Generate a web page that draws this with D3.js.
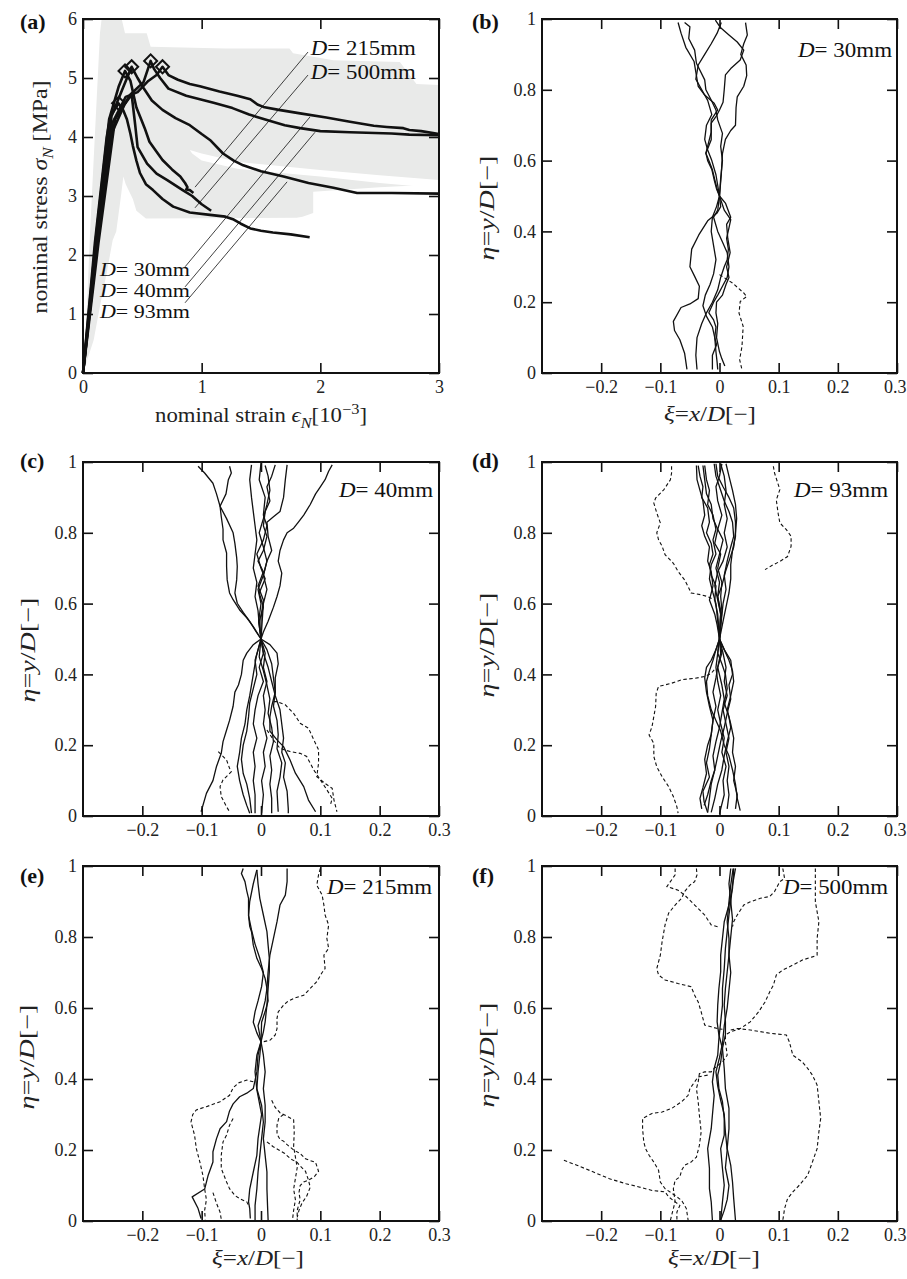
<!DOCTYPE html>
<html><head><meta charset="utf-8">
<script src="https://cdn.jsdelivr.net/npm/d3@7"></script>
<style>body{margin:0;background:#fff}</style>
</head><body><svg width="907" height="1279"></svg>
<script>
// ================= DATA =================
// Panel (a): nominal stress-strain curves (strain in 1e-3, stress in MPa)
const strainTicks = [0,1,2,3];
const stressTicks = [0,1,2,3,4,5,6];
const curveTop = [[0,0],[0.12,2.2],[0.25,4.25],[0.36,4.68],[0.46,4.76],[0.55,4.95],[0.62,5.05],[0.67,5.19],[0.72,5.05],[0.80,4.97],[0.90,4.90],[0.985,4.86],[1.15,4.77],[1.30,4.70],[1.41,4.64],[1.47,4.55],[1.52,4.51],[1.65,4.46],[1.83,4.40],[2.05,4.33],[2.25,4.26],[2.45,4.19],[2.56,4.17],[2.70,4.15],[2.75,4.12],[2.85,4.10],[3.0,4.05]];
const curveSecond = [[0,0],[0.13,2.2],[0.27,4.3],[0.40,4.72],[0.51,4.93],[0.57,5.29],[0.60,5.15],[0.65,5.0],[0.72,4.82],[0.87,4.70],[0.985,4.64],[1.10,4.58],[1.26,4.49],[1.40,4.38],[1.55,4.29],[1.70,4.20],[1.83,4.15],[2.0,4.10],[2.25,4.08],[2.6,4.06],[2.75,4.04],[3.0,4.03]];
const curveThird = [[0,0],[0.12,2.3],[0.24,4.35],[0.33,4.8],[0.41,5.19],[0.46,5.0],[0.51,4.83],[0.58,4.62],[0.67,4.46],[0.78,4.32],[0.90,4.20],[1.0,4.05],[1.07,3.95],[1.18,3.72],[1.27,3.60],[1.35,3.52],[1.50,3.42],[1.69,3.33],[1.90,3.22],[2.11,3.14],[2.31,3.05],[2.6,3.05],[3.0,3.04]];
const curveShortA = [[0,0],[0.11,2.3],[0.22,4.3],[0.30,4.85],[0.354,5.12],[0.40,4.95],[0.45,4.5],[0.49,4.3],[0.52,4.15],[0.56,3.92],[0.62,3.75],[0.67,3.61],[0.75,3.45],[0.82,3.33],[0.86,3.22],[0.88,3.15],[0.87,3.11],[0.90,3.10],[0.93,3.05]];
const curveShortB = [[0,0],[0.12,2.2],[0.25,4.1],[0.35,4.55],[0.41,4.72],[0.44,4.2],[0.46,3.83],[0.54,3.55],[0.62,3.38],[0.71,3.27],[0.84,3.10],[0.92,3.0],[1.0,2.86],[1.08,2.75]];
const curveLow = [[0,0],[0.10,2.2],[0.20,4.0],[0.23,4.34],[0.30,4.57],[0.34,4.45],[0.37,4.3],[0.40,4.05],[0.42,3.85],[0.45,3.6],[0.48,3.39],[0.53,3.2],[0.59,3.10],[0.67,2.95],[0.76,2.82],[0.90,2.72],[1.07,2.68],[1.20,2.65],[1.27,2.60],[1.33,2.53],[1.41,2.45],[1.50,2.41],[1.60,2.38],[1.75,2.35],[1.91,2.30]];
const peakMarkers = [[0.30,4.57],[0.354,5.12],[0.41,5.19],[0.57,5.29],[0.67,5.19]];
const greyEnvelope = [[0,0],[0.017,0.39],[0.036,1.24],[0.059,2.37],[0.087,3.5],[0.115,4.63],[0.143,5.76],[0.157,6.0],[0.326,6.0],[0.354,5.76],[0.537,5.76],[0.57,5.53],[1.2,5.5],[1.74,5.5],[1.77,5.42],[2.11,5.3],[2.67,5.27],[2.81,4.9],[3.0,4.88],[3.0,3.2],[2.5,3.15],[1.94,3.07],[1.94,2.71],[1.85,2.65],[1.8,2.63],[0.53,2.62],[0.45,2.75],[0.42,2.95],[0.36,3.2],[0.34,3.33],[0.32,3.0],[0.28,2.4],[0.25,2.25],[0.2,1.7],[0.14,1.1],[0.09,0.56]];
const whiteStreak = [[0.90,3.78],[1.0,3.72],[1.3,3.58],[2.0,3.44],[2.5,3.35],[3.0,3.27],[3.0,3.13],[2.5,3.22],[2.0,3.33],[1.3,3.46],[1.0,3.60],[0.92,3.72]];
const specimenSizes = [215,500,30,40,93];

// Panels (b)-(f): crack paths (xi = x/D, eta = y/D)
const xiTicks = [-0.2,-0.1,0,0.1,0.2,0.3];
const etaTicks = [0,0.2,0.4,0.6,0.8,1];
const panelSizes = [30,40,93,215,500];

const crackB_solid = [
 [[-0.070,0.99],[-0.065,0.96],[-0.057,0.92],[-0.043,0.88],[-0.039,0.84],[-0.036,0.81],[-0.025,0.785],[-0.009,0.762],[-0.003,0.743],[-0.014,0.715],[-0.014,0.68],[-0.023,0.621],[-0.018,0.60],[-0.012,0.574],[-0.008,0.546],[-0.004,0.52],[0,0.5],[0.002,0.47],[-0.004,0.452],[-0.020,0.43],[-0.035,0.39],[-0.047,0.35],[-0.050,0.30],[-0.042,0.273],[-0.034,0.245],[-0.036,0.21],[-0.050,0.195],[-0.065,0.185],[-0.078,0.146],[-0.076,0.12],[-0.067,0.094],[-0.059,0.056],[-0.055,0.01]],
 [[-0.059,0.99],[-0.050,0.978],[-0.052,0.945],[-0.042,0.912],[-0.039,0.875],[-0.025,0.828],[-0.023,0.80],[-0.014,0.771],[-0.006,0.743],[-0.003,0.715],[0.005,0.677],[0.002,0.64],[0.005,0.60],[0.002,0.55],[0,0.5],[0.008,0.46],[0.019,0.433],[0.016,0.41],[0.012,0.38],[0.015,0.35],[0.013,0.32],[0.008,0.30],[0.002,0.27],[-0.003,0.235],[-0.012,0.20],[-0.022,0.17],[-0.030,0.14],[-0.038,0.10],[-0.040,0.05],[-0.038,0.01]],
 [[-0.007,0.997],[0.002,0.975],[0.016,0.955],[0.030,0.935],[0.041,0.912],[0.035,0.884],[0.019,0.86],[0.010,0.842],[0.008,0.80],[0.006,0.765],[0.000,0.743],[-0.006,0.724],[-0.014,0.706],[-0.014,0.659],[-0.023,0.621],[-0.020,0.60],[-0.013,0.575],[-0.009,0.546],[-0.005,0.52],[0,0.5],[-0.003,0.46],[-0.010,0.44],[-0.003,0.40],[0.005,0.37],[0.013,0.34],[0.016,0.30],[0.013,0.27],[0.005,0.245],[-0.003,0.22],[-0.010,0.20],[-0.018,0.17],[-0.010,0.15],[-0.006,0.13],[-0.008,0.10],[-0.005,0.08],[-0.012,0.05],[-0.012,0.01]],
 [[0.044,0.99],[0.047,0.955],[0.041,0.93],[0.036,0.90],[0.045,0.87],[0.046,0.84],[0.041,0.81],[0.030,0.78],[0.028,0.75],[0.027,0.70],[0.019,0.685],[0.010,0.66],[0.005,0.62],[0.003,0.56],[0,0.5],[0.010,0.48],[0.019,0.44],[0.012,0.42],[0.014,0.38],[0.018,0.34],[0.012,0.30],[0.016,0.27],[0.011,0.25],[0.005,0.22],[-0.005,0.20],[-0.006,0.17],[-0.003,0.14],[-0.005,0.10],[0.000,0.06],[0.004,0.04],[0.009,0.02]],
 [[0.003,0.99],[-0.004,0.96],[-0.014,0.93],[-0.025,0.90],[-0.036,0.87],[-0.040,0.83],[-0.030,0.80],[-0.020,0.77],[-0.013,0.73],[-0.022,0.70],[-0.025,0.66],[-0.020,0.63],[-0.013,0.60],[-0.006,0.56],[0,0.5],[-0.005,0.47],[-0.012,0.44],[-0.014,0.40],[-0.010,0.36],[-0.006,0.32],[-0.010,0.28],[-0.016,0.25],[-0.024,0.22],[-0.028,0.19],[-0.022,0.16],[-0.012,0.13],[-0.008,0.10],[-0.006,0.06],[-0.004,0.03],[-0.003,0.01]]
];
const crackB_dashed = [
 [[0,0.278],[0.022,0.254],[0.041,0.226],[0.046,0.216],[0.035,0.202],[0.033,0.169],[0.040,0.132],[0.038,0.075],[0.034,0.038],[0.038,0.009]]
];
const crackC_solid = [
 [[-0.106,0.988],[-0.095,0.969],[-0.081,0.94],[-0.075,0.91],[-0.069,0.875],[-0.058,0.84],[-0.047,0.80],[-0.044,0.77],[-0.041,0.73],[-0.040,0.705],[-0.041,0.667],[-0.044,0.63],[-0.040,0.601],[-0.030,0.575],[-0.019,0.55],[-0.008,0.52],[0,0.5]],
 [[-0.053,0.988],[-0.050,0.969],[-0.055,0.95],[-0.059,0.91],[-0.069,0.875],[-0.067,0.846],[-0.064,0.81],[-0.064,0.78],[-0.058,0.743],[-0.058,0.705],[-0.057,0.667],[-0.053,0.63],[-0.047,0.611],[-0.036,0.582],[-0.024,0.56],[-0.013,0.535],[0,0.5]],
 [[-0.016,0.992],[-0.019,0.95],[-0.016,0.90],[-0.013,0.86],[-0.010,0.82],[-0.007,0.78],[-0.010,0.74],[-0.013,0.70],[-0.007,0.66],[-0.010,0.62],[-0.005,0.58],[-0.003,0.54],[0,0.5]],
 [[0.000,0.997],[-0.003,0.95],[0.007,0.90],[0.004,0.85],[0.010,0.82],[0.004,0.78],[-0.007,0.74],[0.000,0.70],[0.007,0.67],[-0.003,0.63],[0.004,0.59],[-0.003,0.55],[0,0.5]],
 [[0.024,0.992],[0.018,0.96],[0.010,0.93],[0.015,0.89],[0.007,0.86],[0.004,0.82],[0.010,0.79],[0.004,0.75],[-0.005,0.72],[0.004,0.69],[-0.005,0.65],[0.004,0.61],[0.000,0.56],[0,0.5]],
 [[0.044,0.992],[0.041,0.95],[0.038,0.90],[0.032,0.86],[0.021,0.845],[0.010,0.83],[0.012,0.79],[0.018,0.75],[0.010,0.72],[0.004,0.68],[0.010,0.64],[0.004,0.60],[0.002,0.55],[0,0.5]],
 [[0.120,0.992],[0.114,0.974],[0.108,0.95],[0.100,0.93],[0.092,0.91],[0.083,0.88],[0.072,0.85],[0.063,0.83],[0.055,0.813],[0.044,0.80],[0.038,0.78],[0.032,0.75],[0.029,0.72],[0.035,0.686],[0.032,0.65],[0.027,0.62],[0.021,0.59],[0.012,0.55],[0.004,0.52],[0,0.5]],
 [[0.007,0.99],[0.012,0.96],[0.015,0.92],[0.010,0.88],[0.004,0.84],[-0.003,0.80],[0.004,0.76],[0.010,0.72],[0.004,0.68],[-0.005,0.64],[0.000,0.60],[-0.004,0.55],[0,0.5]],
 [[0,0.5],[-0.013,0.484],[-0.024,0.46],[-0.030,0.44],[-0.033,0.40],[-0.038,0.37],[-0.044,0.35],[-0.047,0.31],[-0.053,0.27],[-0.058,0.243],[-0.064,0.21],[-0.067,0.177],[-0.075,0.14],[-0.081,0.10],[-0.092,0.064],[-0.101,0.012]],
 [[0,0.5],[0.015,0.484],[0.027,0.46],[0.029,0.43],[0.024,0.39],[0.024,0.35],[0.018,0.31],[0.015,0.28],[0.015,0.24],[0.027,0.215],[0.038,0.196],[0.049,0.158],[0.058,0.121],[0.072,0.083],[0.080,0.045],[0.092,0.012]],
 [[0,0.5],[-0.005,0.47],[-0.010,0.44],[-0.007,0.40],[-0.013,0.36],[-0.019,0.32],[-0.021,0.28],[-0.024,0.24],[-0.030,0.20],[-0.033,0.16],[-0.030,0.12],[-0.024,0.09],[-0.019,0.05],[-0.016,0.008]],
 [[0,0.5],[0.004,0.46],[-0.003,0.42],[0.004,0.38],[-0.005,0.34],[-0.010,0.30],[-0.013,0.26],[-0.007,0.22],[-0.013,0.18],[-0.010,0.14],[-0.013,0.10],[-0.010,0.06],[-0.010,0.008]],
 [[0,0.5],[0.007,0.46],[0.004,0.42],[0.010,0.38],[0.004,0.34],[0.007,0.30],[0.004,0.26],[0.010,0.22],[0.004,0.18],[0.007,0.14],[0.001,0.10],[0.004,0.06],[0.001,0.008]],
 [[0,0.5],[-0.003,0.45],[0.004,0.41],[0.010,0.37],[0.015,0.33],[0.012,0.29],[0.018,0.25],[0.021,0.21],[0.015,0.17],[0.018,0.13],[0.015,0.09],[0.018,0.05],[0.018,0.008]],
 [[0,0.5],[0.010,0.47],[0.018,0.43],[0.021,0.39],[0.024,0.35],[0.021,0.31],[0.027,0.27],[0.029,0.23],[0.027,0.19],[0.035,0.15],[0.032,0.11],[0.027,0.07],[0.029,0.012]],
 [[0,0.5],[0.004,0.46],[0.012,0.42],[0.018,0.38],[0.024,0.34],[0.032,0.30],[0.035,0.26],[0.038,0.22],[0.035,0.18],[0.041,0.15],[0.038,0.11],[0.044,0.07],[0.046,0.02],[0.046,0.008]],
 [[0,0.5],[-0.008,0.45],[-0.013,0.40],[-0.019,0.34],[-0.024,0.30],[-0.027,0.26],[-0.033,0.22],[-0.036,0.18],[-0.040,0.14],[-0.036,0.10],[-0.030,0.06],[-0.024,0.03],[-0.019,0.008]]
];
const crackC_dashed = [
 [[-0.072,0.182],[-0.058,0.158],[-0.053,0.135],[-0.050,0.125],[-0.064,0.102],[-0.069,0.083],[-0.067,0.055],[-0.058,0.026],[-0.053,0.012]],
 [[0.021,0.323],[0.027,0.323],[0.041,0.314],[0.055,0.290],[0.066,0.262],[0.080,0.248],[0.089,0.215],[0.097,0.187],[0.097,0.149],[0.094,0.111],[0.108,0.092],[0.120,0.078],[0.123,0.045],[0.128,0.012]],
 [[0.010,0.243],[0.021,0.215],[0.032,0.191],[0.049,0.182],[0.066,0.177],[0.077,0.168],[0.089,0.130],[0.100,0.102],[0.111,0.074],[0.120,0.050],[0.117,0.031]]
];
const crackD_solid = [
 [[-0.039,0.99],[-0.038,0.95],[-0.033,0.92],[-0.028,0.89],[-0.025,0.85],[-0.030,0.82],[-0.025,0.79],[-0.017,0.76],[-0.020,0.72],[-0.014,0.69],[-0.011,0.65],[-0.017,0.61],[-0.008,0.57],[-0.004,0.54],[0,0.5],[0.004,0.46],[-0.003,0.42],[-0.006,0.39],[-0.011,0.35],[-0.006,0.31],[-0.011,0.27],[-0.014,0.23],[-0.017,0.19],[-0.022,0.15],[-0.017,0.11],[-0.028,0.07],[-0.026,0.04],[-0.020,0.01]],
 [[-0.036,0.99],[-0.033,0.96],[-0.028,0.93],[-0.030,0.90],[-0.020,0.87],[-0.017,0.83],[-0.022,0.80],[-0.014,0.77],[-0.011,0.74],[-0.017,0.71],[-0.014,0.68],[-0.006,0.65],[-0.008,0.61],[-0.003,0.57],[0,0.5],[-0.003,0.46],[0.004,0.43],[0.010,0.40],[0.013,0.36],[0.008,0.32],[0.016,0.28],[0.019,0.25],[0.013,0.21],[0.008,0.17],[0.004,0.13],[-0.003,0.09],[-0.008,0.05],[-0.014,0.01]],
 [[-0.028,0.99],[-0.025,0.95],[-0.022,0.91],[-0.014,0.88],[-0.011,0.84],[-0.003,0.81],[-0.008,0.77],[0.002,0.74],[-0.003,0.70],[0.004,0.66],[0.002,0.62],[0.004,0.58],[0,0.5],[0.008,0.47],[0.019,0.44],[0.022,0.40],[0.016,0.37],[0.019,0.33],[0.013,0.29],[0.008,0.25],[0.002,0.21],[-0.003,0.17],[-0.008,0.13],[-0.014,0.10],[-0.020,0.06],[-0.026,0.03]],
 [[-0.009,0.995],[-0.006,0.96],[0.000,0.93],[0.008,0.89],[0.016,0.86],[0.022,0.83],[0.024,0.79],[0.019,0.76],[0.013,0.72],[0.008,0.68],[0.011,0.64],[0.006,0.60],[0.003,0.55],[0,0.5],[-0.006,0.47],[-0.011,0.44],[-0.017,0.41],[-0.022,0.38],[-0.020,0.34],[-0.014,0.30],[-0.006,0.27],[0.002,0.24],[0.008,0.20],[0.016,0.17],[0.022,0.13],[0.027,0.09],[0.030,0.05],[0.035,0.015]],
 [[-0.006,0.995],[-0.003,0.96],[0.006,0.93],[0.016,0.90],[0.024,0.87],[0.027,0.83],[0.027,0.79],[0.022,0.75],[0.019,0.71],[0.019,0.67],[0.016,0.63],[0.011,0.59],[0.006,0.55],[0,0.5],[0.008,0.47],[0.016,0.44],[0.022,0.41],[0.024,0.38],[0.019,0.34],[0.013,0.30],[0.019,0.26],[0.024,0.22],[0.022,0.18],[0.027,0.14],[0.024,0.10],[0.030,0.06],[0.027,0.02]],
 [[0.002,0.995],[0.008,0.96],[0.011,0.92],[0.008,0.88],[0.013,0.84],[0.008,0.80],[0.013,0.76],[0.006,0.72],[-0.003,0.69],[-0.008,0.65],[-0.003,0.61],[0.002,0.57],[0,0.5],[-0.003,0.46],[-0.006,0.42],[-0.003,0.38],[0.002,0.34],[-0.003,0.30],[0.002,0.26],[0.008,0.22],[0.004,0.18],[0.011,0.14],[0.006,0.10],[0.008,0.06],[0.002,0.02],[0.000,0.005]],
 [[0.011,0.995],[0.016,0.96],[0.022,0.92],[0.027,0.88],[0.029,0.84],[0.027,0.80],[0.024,0.76],[0.016,0.72],[0.010,0.69],[0.004,0.65],[-0.003,0.62],[0.002,0.58],[0,0.5],[0.006,0.46],[0.011,0.42],[0.008,0.38],[0.013,0.34],[0.006,0.30],[0.011,0.26],[0.016,0.22],[0.011,0.18],[0.016,0.14],[0.013,0.10],[0.016,0.06],[0.013,0.02]],
 [[-0.025,0.99],[-0.022,0.95],[-0.017,0.92],[-0.020,0.88],[-0.011,0.85],[-0.006,0.81],[-0.011,0.78],[-0.006,0.74],[-0.014,0.71],[-0.017,0.67],[-0.011,0.63],[-0.006,0.60],[-0.003,0.55],[0,0.5],[-0.006,0.47],[-0.014,0.44],[-0.022,0.42],[-0.025,0.39],[-0.022,0.35],[-0.017,0.31],[-0.011,0.27],[-0.014,0.23],[-0.020,0.20],[-0.025,0.16],[-0.022,0.12],[-0.028,0.08],[-0.033,0.05],[-0.030,0.02]],
 [[0.004,0.995],[0.000,0.96],[-0.006,0.93],[-0.003,0.89],[0.004,0.85],[-0.003,0.81],[0.006,0.78],[0.000,0.74],[-0.006,0.70],[0.000,0.66],[-0.003,0.62],[0.002,0.57],[0,0.5],[0.002,0.46],[-0.003,0.42],[0.004,0.37],[0.008,0.33],[0.004,0.29],[0.000,0.25],[-0.006,0.21],[-0.011,0.17],[-0.008,0.13],[-0.014,0.09],[-0.017,0.05],[-0.020,0.01]]
];
const crackD_dashed = [
 [[-0.081,0.988],[-0.081,0.969],[-0.083,0.95],[-0.094,0.922],[-0.108,0.898],[-0.111,0.884],[-0.106,0.856],[-0.100,0.828],[-0.106,0.80],[-0.103,0.78],[-0.097,0.762],[-0.092,0.738],[-0.078,0.714],[-0.070,0.691],[-0.059,0.667],[-0.053,0.648],[-0.048,0.63],[-0.031,0.625],[-0.020,0.62],[-0.009,0.611]],
 [[0.091,0.988],[0.093,0.969],[0.102,0.922],[0.096,0.893],[0.099,0.856],[0.102,0.828],[0.113,0.809],[0.121,0.79],[0.121,0.762],[0.115,0.733],[0.102,0.719],[0.091,0.71],[0.077,0.696]],
 [[-0.009,0.413],[-0.014,0.403],[-0.025,0.394],[-0.042,0.389],[-0.064,0.385],[-0.081,0.375],[-0.103,0.366],[-0.107,0.347],[-0.108,0.309],[-0.111,0.281],[-0.114,0.253],[-0.119,0.229],[-0.111,0.205],[-0.111,0.168],[-0.106,0.139],[-0.097,0.111],[-0.086,0.083],[-0.078,0.055],[-0.072,0.026],[-0.070,0.008]]
];
const crackE_solid = [
 [[-0.030,0.993],[-0.033,0.979],[-0.027,0.956],[-0.024,0.93],[-0.021,0.909],[-0.021,0.862],[-0.019,0.83],[-0.016,0.815],[-0.013,0.777],[-0.007,0.74],[0.001,0.711],[0.007,0.683],[0.010,0.655],[0.012,0.62],[0.007,0.59],[0.001,0.56],[0,0.505]],
 [[-0.007,0.989],[-0.005,0.95],[-0.002,0.909],[0.004,0.862],[0.010,0.815],[0.012,0.777],[0.014,0.74],[0.014,0.702],[0.012,0.655],[0.010,0.608],[0.007,0.561],[0.004,0.533],[0,0.505]],
 [[0.044,0.993],[0.044,0.956],[0.041,0.918],[0.032,0.89],[0.027,0.843],[0.021,0.796],[0.015,0.749],[0.012,0.702],[0.010,0.655],[0.007,0.62],[0.001,0.58],[-0.005,0.55],[0,0.505]],
 [[-0.007,0.989],[-0.013,0.95],[-0.019,0.90],[-0.021,0.86],[-0.016,0.82],[-0.010,0.78],[-0.002,0.74],[0.004,0.70],[0.001,0.66],[-0.005,0.62],[-0.010,0.59],[-0.013,0.56],[-0.007,0.53],[0,0.505]],
 [[0,0.505],[-0.005,0.467],[-0.007,0.42],[-0.013,0.373],[-0.024,0.36],[-0.036,0.35],[-0.047,0.33],[-0.053,0.31],[-0.058,0.28],[-0.069,0.26],[-0.075,0.232],[-0.081,0.195],[-0.081,0.166],[-0.089,0.129],[-0.095,0.09],[-0.116,0.068],[-0.106,0.035],[-0.101,0.007]],
 [[0,0.505],[-0.002,0.467],[-0.005,0.42],[-0.007,0.373],[0.001,0.326],[0.004,0.279],[0.001,0.232],[-0.002,0.185],[-0.005,0.138],[-0.007,0.09],[-0.010,0.044],[-0.010,0.002]],
 [[0,0.505],[0.004,0.467],[0.007,0.42],[0.004,0.373],[0.007,0.326],[0.007,0.279],[0.004,0.232],[0.007,0.185],[0.010,0.138],[0.010,0.09],[0.011,0.044],[0.012,0.002]],
 [[0,0.505],[-0.007,0.467],[-0.010,0.42],[-0.007,0.37],[0.001,0.30],[-0.005,0.232],[-0.007,0.185],[-0.013,0.138],[-0.019,0.09],[-0.021,0.054],[-0.019,0.035],[-0.018,0.007]]
];
const crackE_dashed = [
 [[0.100,0.993],[0.097,0.975],[0.094,0.946],[0.103,0.918],[0.106,0.89],[0.108,0.862],[0.114,0.834],[0.111,0.796],[0.114,0.768],[0.106,0.749],[0.108,0.711],[0.103,0.70],[0.094,0.674],[0.083,0.655],[0.072,0.636],[0.055,0.627],[0.044,0.617],[0.038,0.608],[0.029,0.589],[0.027,0.571],[0.027,0.542],[0.024,0.524],[0.015,0.509],[0.004,0.505]],
 [[-0.013,0.392],[-0.024,0.397],[-0.038,0.389],[-0.047,0.375],[-0.053,0.354],[-0.069,0.336],[-0.092,0.322],[-0.109,0.313],[-0.115,0.30],[-0.118,0.279],[-0.112,0.242],[-0.109,0.204],[-0.103,0.166],[-0.098,0.129],[-0.095,0.091],[-0.092,0.06],[-0.095,0.03],[-0.094,0.005]],
 [[-0.047,0.289],[-0.053,0.27],[-0.058,0.242],[-0.064,0.223],[-0.067,0.185],[-0.067,0.148],[-0.058,0.11],[-0.053,0.091],[-0.044,0.072],[-0.036,0.063],[-0.024,0.054],[-0.021,0.044]],
 [[-0.081,0.08],[-0.075,0.05],[-0.069,0.025],[-0.067,0.005]],
 [[0.018,0.34],[0.024,0.32],[0.032,0.305],[0.044,0.295],[0.055,0.285],[0.056,0.25],[0.055,0.21],[0.058,0.18],[0.061,0.15],[0.058,0.12],[0.055,0.09],[0.058,0.06],[0.055,0.03],[0.053,0.002]],
 [[0.038,0.30],[0.030,0.29],[0.027,0.27],[0.027,0.245],[0.032,0.23],[0.038,0.225],[0.044,0.215],[0.055,0.20],[0.066,0.19],[0.075,0.175],[0.092,0.165],[0.097,0.14],[0.090,0.125],[0.080,0.115],[0.072,0.11],[0.066,0.10],[0.064,0.08],[0.066,0.06],[0.061,0.03],[0.061,0.002]],
 [[0.010,0.223],[0.020,0.21],[0.030,0.20],[0.040,0.19],[0.050,0.175],[0.061,0.165],[0.066,0.155],[0.075,0.14],[0.080,0.115],[0.083,0.095],[0.077,0.07],[0.069,0.05],[0.064,0.03],[0.061,0.01]]
];
const crackF_solid = [
 [[0.027,0.993],[0.022,0.946],[0.019,0.899],[0.016,0.862],[0.013,0.815],[0.010,0.768],[0.008,0.711],[0.005,0.655],[0.005,0.608],[0.002,0.561],[-0.001,0.514],[-0.003,0.467],[-0.009,0.43],[-0.012,0.392],[-0.009,0.354],[-0.012,0.298],[-0.014,0.26],[-0.020,0.204],[-0.017,0.148],[-0.017,0.091],[-0.014,0.054],[-0.012,0.002]],
 [[0.024,0.993],[0.022,0.937],[0.016,0.89],[0.008,0.843],[0.005,0.796],[0.002,0.749],[0.002,0.702],[-0.001,0.655],[-0.003,0.608],[-0.004,0.561],[-0.001,0.524],[0.005,0.486],[0.002,0.448],[-0.003,0.411],[-0.001,0.373],[0.005,0.336],[0.008,0.289],[0.008,0.242],[0.002,0.204],[0.005,0.148],[0.008,0.101],[0.005,0.054],[0.002,0.002]],
 [[0.023,0.993],[0.019,0.946],[0.016,0.899],[0.013,0.843],[0.016,0.796],[0.016,0.749],[0.013,0.702],[0.010,0.655],[0.008,0.608],[0.010,0.561],[0.010,0.524],[0.005,0.486],[0.008,0.43],[0.010,0.373],[0.016,0.317],[0.016,0.26],[0.013,0.204],[0.019,0.157],[0.022,0.11],[0.024,0.063],[0.027,0.002]],
 [[0.019,0.993],[0.016,0.95],[0.019,0.90],[0.022,0.85],[0.019,0.80],[0.016,0.75],[0.019,0.70],[0.016,0.65],[0.013,0.60],[0.008,0.55],[0.005,0.50],[0.000,0.46],[-0.006,0.42],[-0.003,0.38],[0.002,0.34],[0.008,0.30],[0.010,0.25],[0.013,0.20],[0.010,0.15],[0.016,0.10],[0.013,0.06],[0.008,0.03],[0.002,0.002]]
];
const crackF_dashed = [
 [[-0.075,0.993],[-0.075,0.975],[-0.089,0.942],[-0.070,0.932],[-0.059,0.918],[-0.042,0.89],[-0.025,0.862],[-0.014,0.834],[-0.003,0.829]],
 [[-0.039,0.993],[-0.038,0.975],[-0.042,0.956],[-0.050,0.946],[-0.059,0.928],[-0.064,0.909],[-0.075,0.89],[-0.086,0.867],[-0.092,0.834],[-0.097,0.787],[-0.100,0.749],[-0.106,0.711],[-0.103,0.693],[-0.092,0.679],[-0.070,0.669],[-0.048,0.66],[-0.042,0.636],[-0.036,0.617],[-0.031,0.589],[-0.025,0.552],[-0.014,0.547],[-0.003,0.542],[0.005,0.54]],
 [[0.107,0.993],[0.110,0.965],[0.102,0.956],[0.093,0.928],[0.085,0.914],[0.069,0.909],[0.052,0.899],[0.041,0.89],[0.030,0.862],[0.024,0.843],[0.022,0.829]],
 [[0.162,0.993],[0.162,0.937],[0.162,0.899],[0.168,0.843],[0.165,0.796],[0.165,0.749],[0.157,0.744],[0.140,0.735],[0.124,0.721],[0.107,0.707],[0.096,0.693],[0.091,0.664],[0.085,0.646],[0.077,0.617],[0.066,0.589],[0.052,0.561],[0.035,0.542],[0.019,0.533],[0.010,0.524],[0.010,0.505],[0.013,0.467],[0.005,0.448],[-0.009,0.43],[-0.014,0.42],[-0.025,0.42],[-0.034,0.415],[-0.036,0.392],[-0.039,0.373],[-0.036,0.336],[-0.034,0.298],[-0.031,0.251],[-0.034,0.213],[-0.039,0.18],[-0.048,0.166],[-0.059,0.157],[-0.064,0.143],[-0.067,0.124],[-0.075,0.115],[-0.078,0.091],[-0.075,0.054],[-0.078,0.035],[-0.083,0.002]],
 [[0.019,0.538],[0.030,0.542],[0.052,0.538],[0.085,0.529],[0.113,0.524],[0.118,0.505],[0.124,0.467],[0.140,0.448],[0.149,0.43],[0.157,0.411],[0.165,0.383],[0.168,0.336],[0.171,0.289],[0.168,0.251],[0.165,0.204],[0.157,0.166],[0.149,0.129],[0.135,0.101],[0.124,0.082],[0.115,0.063],[0.110,0.035],[0.107,0.002]],
 [[-0.020,0.411],[-0.036,0.406],[-0.050,0.373],[-0.053,0.354],[-0.064,0.336],[-0.081,0.317],[-0.097,0.307],[-0.114,0.303],[-0.130,0.289],[-0.130,0.26],[-0.128,0.223],[-0.125,0.204],[-0.119,0.185],[-0.111,0.166],[-0.103,0.143],[-0.100,0.11],[-0.092,0.091],[-0.075,0.072],[-0.064,0.058],[-0.056,0.035],[-0.053,0.002]],
 [[-0.263,0.171],[-0.241,0.157],[-0.213,0.138],[-0.186,0.119],[-0.158,0.105],[-0.136,0.096],[-0.114,0.086],[-0.092,0.082],[-0.086,0.068],[-0.075,0.054],[-0.067,0.044],[-0.072,0.025],[-0.072,0.002]]
];

// ================= DRAWING =================
const FONT = '"Liberation Serif","Times New Roman",serif';
const INK = "#111";
const svg = d3.select("svg");

const boxes = {
  a:{x0:83,x1:439,y0:19,y1:373}, b:{x0:542,x1:897,y0:19,y1:373},
  c:{x0:83,x1:439,y0:462,y1:816}, d:{x0:542,x1:897,y0:462,y1:816},
  e:{x0:83,x1:439,y0:866,y1:1221}, f:{x0:542,x1:897,y0:866,y1:1221}
};

function rich(sel, parts, size){
  let shift = 0;
  parts.forEach(p=>{
    const ts = sel.append("tspan").text(p.t);
    if(p.i) ts.attr("font-style","italic");
    const target = p.sub ? size*0.3 : (p.sup ? -size*0.42 : 0);
    const dy = target - shift;
    if(dy !== 0) ts.attr("dy", dy);
    shift = target;
    if(p.sub || p.sup) ts.attr("font-size", size*0.72);
  });
}

function axes(g, x, y, xt, yt, fx, fy, w, h, pullLast){
  const list = [
    g.append("g").attr("transform",`translate(0,${h})`).call(d3.axisBottom(x).tickValues(xt).tickSize(-10).tickPadding(7).tickFormat(fx)),
    g.append("g").call(d3.axisTop(x).tickValues(xt).tickSize(-10).tickFormat(()=>"")),
    g.append("g").call(d3.axisLeft(y).tickValues(yt).tickSize(-10).tickPadding(6).tickFormat(fy)),
    g.append("g").attr("transform",`translate(${w},0)`).call(d3.axisRight(y).tickValues(yt).tickSize(-10).tickFormat(()=>""))
  ];
  list.forEach(a=>{
    a.select(".domain").remove();
    a.attr("font-family",FONT).attr("font-size",18);
    a.selectAll("line").attr("stroke",INK).attr("stroke-width",1.6);
    a.selectAll("text").attr("fill","#222");
  });
  if(pullLast){
    // keep the last x tick label inside the 907px page
    list[0].selectAll("text").filter((d,i,n)=>i===n.length-1).attr("text-anchor","end").attr("x",9);
  }
  g.append("rect").attr("width",w).attr("height",h).attr("fill","none").attr("stroke",INK).attr("stroke-width",2);
}

function panelLetter(letter, x, y){
  svg.append("text").attr("x",x).attr("y",y).attr("font-family",FONT).attr("font-weight","bold")
    .attr("font-size",22).attr("fill","#111").text(`(${letter})`);
}

function sizeLabel(parent, x, y, size, anchor, fs, len){
  const t = parent.append("text").attr("x",x).attr("y",y).attr("font-family",FONT)
    .attr("font-size",fs).attr("fill","#111").attr("text-anchor",anchor)
    .attr("textLength",len).attr("lengthAdjust","spacingAndGlyphs");
  rich(t,[{t:"D",i:true},{t:"= "+size+"mm"}],fs);
  return t;
}

// ---------- Panel (a) ----------
{
  const bx = boxes.a, w = bx.x1-bx.x0, h = bx.y1-bx.y0;
  const g = svg.append("g").attr("transform",`translate(${bx.x0},${bx.y0})`);
  const x = d3.scaleLinear().domain([0,3]).range([0,w]);
  const y = d3.scaleLinear().domain([0,6]).range([h,0]);
  const line = d3.line().x(d=>x(d[0])).y(d=>y(d[1]));
  g.append("path").attr("d", line(greyEnvelope)+"Z").attr("fill","#e9eae9");
  g.append("path").attr("d", line(whiteStreak)+"Z").attr("fill","#fff");
  axes(g, x, y, strainTicks, stressTicks, d=>String(d), d=>String(d), w, h, false);
  [curveLow, curveShortB, curveShortA, curveThird, curveSecond, curveTop].forEach(c=>{
    g.append("path").attr("d", line(c)).attr("fill","none").attr("stroke",INK)
      .attr("stroke-width",2.6).attr("stroke-linejoin","round");
  });
  g.selectAll(".pk").data(peakMarkers).enter().append("path")
    .attr("transform", d=>`translate(${x(d[0])},${y(d[1])}) rotate(45)`)
    .attr("d", d3.symbol().type(d3.symbolSquare).size(85))
    .attr("fill","none").attr("stroke",INK).attr("stroke-width",2);
  // leader lines (data coordinates)
  const leaders = [
    [[1.896,5.44],[0.944,3.15]], [[1.896,5.05],[0.944,2.80]],
    [[0.86,1.80],[1.913,4.34]], [[0.86,1.46],[1.955,4.08]], [[0.86,1.19],[1.72,3.24]]
  ];
  leaders.forEach(l=> g.append("path").attr("d", line(l)).attr("stroke",INK).attr("stroke-width",0.8).attr("fill","none"));
  const labelPos = [[1.92,5.39],[1.92,4.98],[0.143,1.644],[0.143,1.288],[0.143,0.932]];
  const labelFs = [20,20,18,18,18];
  const labelLen = [105,105,90,90,90];
  specimenSizes.forEach((s,i)=> sizeLabel(g, x(labelPos[i][0]), y(labelPos[i][1]), s, "start", labelFs[i], labelLen[i]));
  // axis titles
  const ty = svg.append("text").attr("transform",`translate(40,197) rotate(-90)`).attr("text-anchor","middle")
    .attr("dy","0.35em").attr("font-family",FONT).attr("font-size",20).attr("fill","#222")
    .attr("textLength",233).attr("lengthAdjust","spacingAndGlyphs");
  rich(ty,[{t:"nominal stress "},{t:"σ",i:true},{t:"N",i:true,sub:true},{t:" [MPa]"}],20);
  const tx = svg.append("text").attr("x",261).attr("y",422).attr("text-anchor","middle")
    .attr("font-family",FONT).attr("font-size",20).attr("fill","#222")
    .attr("textLength",212).attr("lengthAdjust","spacingAndGlyphs");
  rich(tx,[{t:"nominal strain "},{t:"ϵ",i:true},{t:"N",i:true,sub:true},{t:"[10"},{t:"−3",sup:true},{t:"]"}],20);
  panelLetter("a",20,29);
}

// ---------- Panels (b)-(f) ----------
const crackPanels = [
  {key:"b", solid:crackB_solid, dashed:crackB_dashed, size:panelSizes[0], letter:[472,29], lab:[892,57], yt:[487,208], xt:[710,421], right:true},
  {key:"c", solid:crackC_solid, dashed:crackC_dashed, size:panelSizes[1], letter:[20,468], lab:[433,497], yt:[28,650], xt:null, right:false},
  {key:"d", solid:crackD_solid, dashed:crackD_dashed, size:panelSizes[2], letter:[472,468], lab:[888,497], yt:[487,645], xt:null, right:true},
  {key:"e", solid:crackE_solid, dashed:crackE_dashed, size:panelSizes[3], letter:[20,883], lab:[432,894], yt:[27,1057], xt:[258,1265], right:false},
  {key:"f", solid:crackF_solid, dashed:crackF_dashed, size:panelSizes[4], letter:[472,883], lab:[888,894], yt:[487,1055], xt:[714,1265], right:true}
];
const fmtXi = v => v===0 ? "0" : (v<0 ? "\u2212" : "") + Math.abs(v).toFixed(1);
const fmtEta = v => (v===0 || v===1) ? String(v) : v.toFixed(1);

crackPanels.forEach(p=>{
  const bx = boxes[p.key], w = bx.x1-bx.x0, h = bx.y1-bx.y0;
  const g = svg.append("g").attr("transform",`translate(${bx.x0},${bx.y0})`);
  const x = d3.scaleLinear().domain([-0.3,0.3]).range([0,w]);
  const y = d3.scaleLinear().domain([0,1]).range([h,0]);
  const line = d3.line().x(d=>x(d[0])).y(d=>y(d[1]));
  axes(g, x, y, xiTicks, etaTicks, fmtXi, fmtEta, w, h, p.right);
  p.dashed.forEach(c=> g.append("path").attr("d",line(c)).attr("fill","none").attr("stroke",INK)
    .attr("stroke-width",1.1).attr("stroke-dasharray","3.5,2.5"));
  p.solid.forEach(c=> g.append("path").attr("d",line(c)).attr("fill","none").attr("stroke",INK)
    .attr("stroke-width",1.3).attr("stroke-linejoin","round"));
  sizeLabel(svg, p.lab[0], p.lab[1], p.size, "end", 21, p.size>=100 ? 105 : 94);
  panelLetter(p.key, p.letter[0], p.letter[1]);
  const ty = svg.append("text").attr("transform",`translate(${p.yt[0]},${p.yt[1]}) rotate(-90)`)
    .attr("text-anchor","middle").attr("dy","0.35em").attr("font-family",FONT).attr("font-size",21).attr("fill","#222")
    .attr("textLength",105).attr("lengthAdjust","spacingAndGlyphs");
  rich(ty,[{t:"η",i:true},{t:"="},{t:"y",i:true},{t:"/"},{t:"D",i:true},{t:"[−]"}],21);
  if(p.xt){
    const tx = svg.append("text").attr("x",p.xt[0]).attr("y",p.xt[1]).attr("text-anchor","middle")
      .attr("font-family",FONT).attr("font-size",21).attr("fill","#222")
      .attr("textLength",92).attr("lengthAdjust","spacingAndGlyphs");
    rich(tx,[{t:"ξ",i:true},{t:"="},{t:"x",i:true},{t:"/"},{t:"D",i:true},{t:"[−]"}],21);
  }
});
</script>
</body></html>
